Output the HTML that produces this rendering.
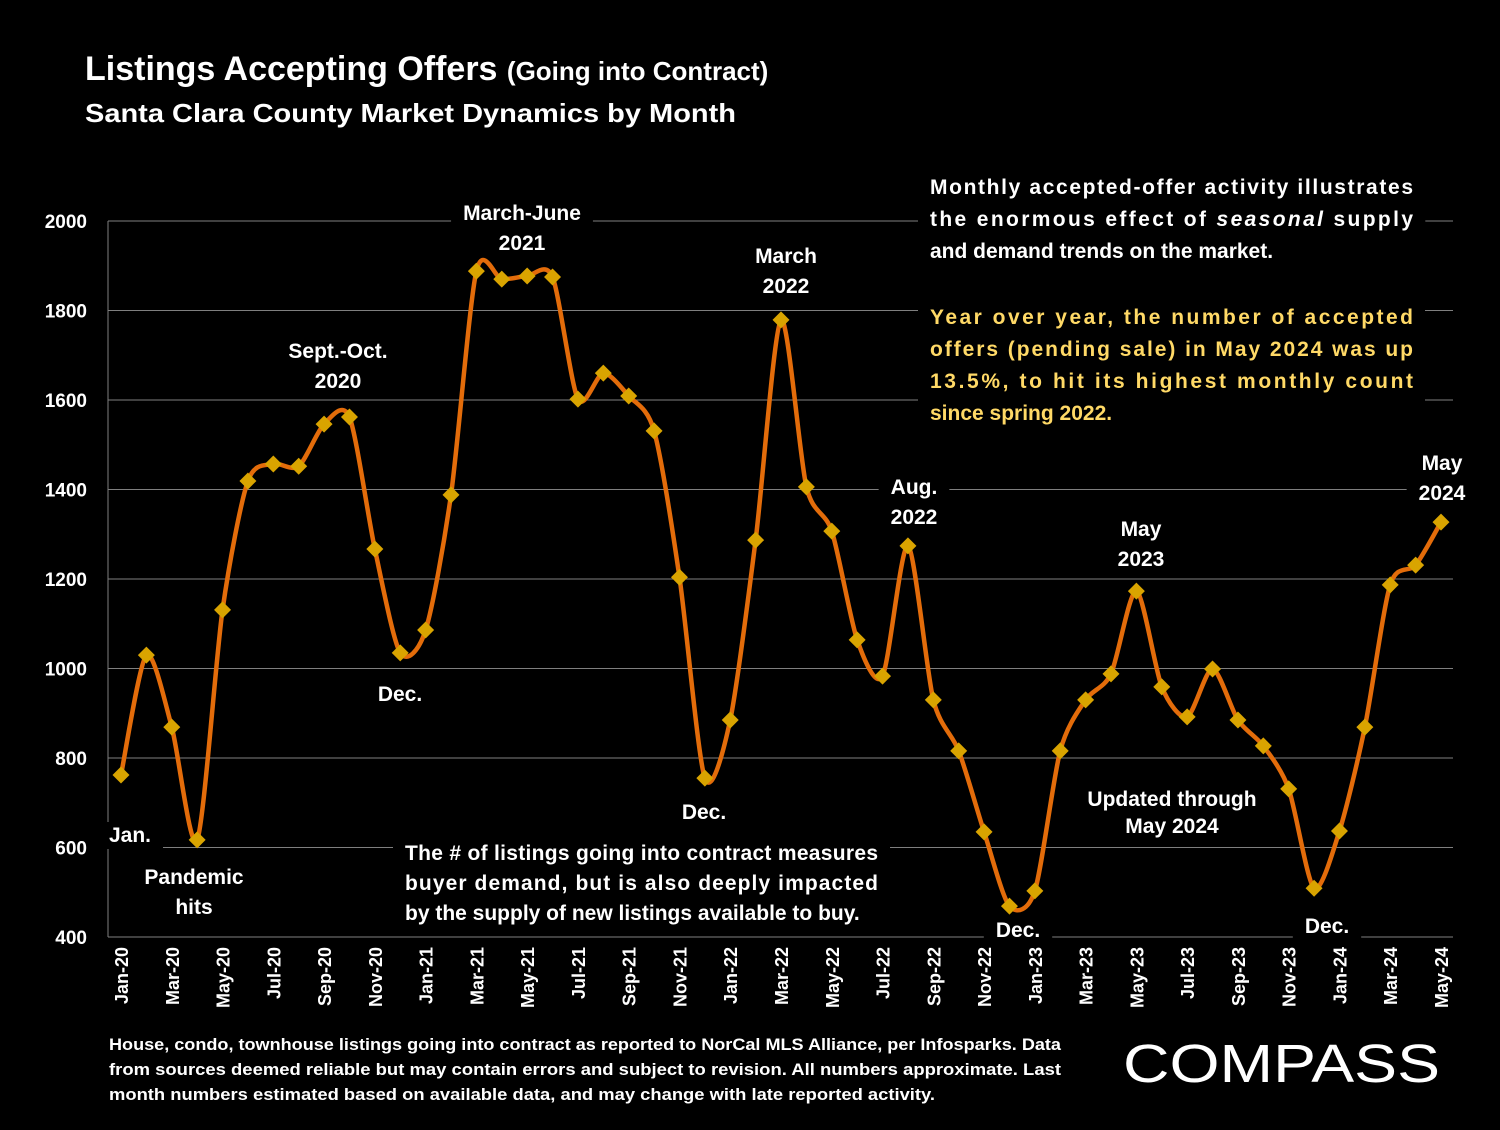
<!DOCTYPE html>
<html><head><meta charset="utf-8"><style>
body{margin:0;background:#000;}
svg text{font-family:"Liberation Sans",sans-serif;font-weight:bold;fill:#fff;}
</style></head><body>
<svg id="chart" width="1500" height="1125" viewBox="0 0 1500 1125" xmlns="http://www.w3.org/2000/svg">
<rect width="1500" height="1125" fill="#000"/>
<text x="85" y="80" font-size="34">Listings Accepting Offers <tspan font-size="26">(Going into Contract)</tspan></text>
<text x="85" y="122" font-size="26" textLength="651" lengthAdjust="spacingAndGlyphs">Santa Clara County Market Dynamics by Month</text>
<g id="grid"></g>
<g id="labels"></g>
<g id="series"></g>
<g id="ann" font-size="21"></g>
<text font-size="16.5"><tspan x="109" y="1050" textLength="952" lengthAdjust="spacingAndGlyphs">House, condo, townhouse listings going into contract as reported to NorCal MLS Alliance, per Infosparks. Data</tspan><tspan x="109" y="1075" textLength="952" lengthAdjust="spacingAndGlyphs">from sources deemed reliable but may contain errors and subject to revision. All numbers approximate. Last</tspan><tspan x="109" y="1100" textLength="826" lengthAdjust="spacingAndGlyphs">month numbers estimated based on available data, and may change with late reported activity.</tspan></text>
<text x="1123" y="1082" font-size="54" textLength="317" lengthAdjust="spacingAndGlyphs" style="font-weight:normal">COMPASS</text>
</svg>
<script>
const months=["Jan-20","Feb-20","Mar-20","Apr-20","May-20","Jun-20","Jul-20","Aug-20","Sep-20","Oct-20","Nov-20","Dec-20","Jan-21","Feb-21","Mar-21","Apr-21","May-21","Jun-21","Jul-21","Aug-21","Sep-21","Oct-21","Nov-21","Dec-21","Jan-22","Feb-22","Mar-22","Apr-22","May-22","Jun-22","Jul-22","Aug-22","Sep-22","Oct-22","Nov-22","Dec-22","Jan-23","Feb-23","Mar-23","Apr-23","May-23","Jun-23","Jul-23","Aug-23","Sep-23","Oct-23","Nov-23","Dec-23","Jan-24","Feb-24","Mar-24","Apr-24","May-24"];
const values=[762,1030,869,617,1131,1419,1457,1452,1546,1562,1267,1035,1086,1388,1888,1870,1877,1875,1602,1660,1609,1531,1204,755,885,1287,1779,1406,1307,1064,983,1274,930,816,635,469,503,816,930,988,1173,959,892,999,885,827,731,509,637,869,1187,1231,1327];
const yTicks=[400,600,800,1000,1200,1400,1600,1800,2000];
const NS="http://www.w3.org/2000/svg";
const X=i=>121+i*(1441-121)/(months.length-1);
const Y=v=>937-(v-400)*(937-221)/1600;
function mk(tag,attrs,parent){const e=document.createElementNS(NS,tag);for(const k in attrs)e.setAttribute(k,attrs[k]);parent.appendChild(e);return e;}
const grid=document.getElementById('grid'),labels=document.getElementById('labels'),series=document.getElementById('series'),ann=document.getElementById('ann');
yTicks.forEach(t=>{
  const l=mk('line',{x1:108,x2:1453,y1:Y(t),y2:Y(t),stroke:'#7f7f7f','stroke-width':1},grid);
  
  
  const tx=mk('text',{x:87,y:Y(t)+7,'text-anchor':'end','font-size':19},labels);
  tx.textContent=t;
  
  
});
const ax=mk('line',{x1:108,x2:108,y1:221,y2:937,stroke:'#7f7f7f','stroke-width':1},grid);


months.forEach((m,i)=>{
  if(i%2)return;
  const tx=mk('text',{transform:`translate(${X(i)+7},947) rotate(-90)`,'text-anchor':'end','font-size':18},labels);
  tx.textContent=m;
  
  
});
const pts=values.map((v,i)=>[X(i),Y(v)]);
let d=`M${pts[0][0]},${pts[0][1]}`;
for(let i=0;i<pts.length-1;i++){
  const p0=pts[Math.max(i-1,0)],p1=pts[i],p2=pts[i+1],p3=pts[Math.min(i+2,pts.length-1)];
  const t=7.5;
  d+=` C${p1[0]+(p2[0]-p0[0])/t},${p1[1]+(p2[1]-p0[1])/t} ${p2[0]-(p3[0]-p1[0])/t},${p2[1]-(p3[1]-p1[1])/t} ${p2[0]},${p2[1]}`;
}
const line=mk('path',{d:d,fill:'none',stroke:'#E36C0A','stroke-width':4.5},series);


pts.forEach(p=>{
  const s=8.5;
  const dm=mk('polygon',{points:`${p[0]},${p[1]-s} ${p[0]+s},${p[1]} ${p[0]},${p[1]+s} ${p[0]-s},${p[1]}`,fill:'#D9A400'},series);
  
  
});
function label(lines,x,y,anchor,color,name,lh,justW){
  const g=mk('g',{},ann);
  
  
  lines.forEach((s,k)=>{
    const t=mk('text',{x:x,y:y+k*(lh||30),'text-anchor':anchor||'middle'},g);
    if(color)t.setAttribute('style','fill:'+color);
    if(s.includes('*')){
      const parts=s.split('*');
      parts.forEach((p,j)=>{const ts=mk('tspan',{},t);if(j%2)ts.setAttribute('font-style','italic');ts.textContent=p;});
    } else t.textContent=s;
    if(justW&&k<lines.length-1){t.setAttribute('textLength',justW);t.setAttribute('lengthAdjust','spacing');}
  });
  const bb=g.getBBox();
  const r=document.createElementNS(NS,'rect');
  r.setAttribute('x',bb.x-12);r.setAttribute('y',bb.y-2);r.setAttribute('width',bb.width+24);r.setAttribute('height',bb.height+4);r.setAttribute('fill','#000');
  g.insertBefore(r,g.firstChild);
}
label(["March-June","2021"],522,220,'middle',null,'label-march-june-2021');
label(["March","2022"],786,263,'middle',null,'label-march-2022');
label(["Sept.-Oct.","2020"],338,358,'middle',null,'label-sept-oct-2020');
label(["Aug.","2022"],914,494,'middle',null,'label-aug-2022');
label(["May","2023"],1141,536,'middle',null,'label-may-2023');
label(["May","2024"],1442,470,'middle',null,'label-may-2024');
label(["Dec."],400,701,'middle',null,'label-dec-2020');
label(["Dec."],704,819,'middle',null,'label-dec-2021');
label(["Dec."],1018,937,'middle',null,'label-dec-2022');
label(["Dec."],1327,933,'middle',null,'label-dec-2023');
label(["Jan."],130,842,'middle',null,'label-jan');
label(["Pandemic","hits"],194,884,'middle',null,'label-pandemic');
label(["Updated through","May 2024"],1172,806,'middle',null,'label-updated',27);
label(["The # of listings going into contract measures","buyer demand, but is also deeply impacted","by the supply of new listings available to buy."],405,860,'start',null,'note-demand',30,473);
label(["Monthly accepted-offer activity illustrates","the enormous effect of *seasonal* supply","and demand trends on the market."],930,194,'start',null,'note-seasonal',32,483);
label(["Year over year, the number of accepted","offers (pending sale) in May 2024 was up","13.5%, to hit its highest monthly count","since spring 2022."],930,324,'start','#FFD966','note-yoy',32,483);
</script>
</body></html>
